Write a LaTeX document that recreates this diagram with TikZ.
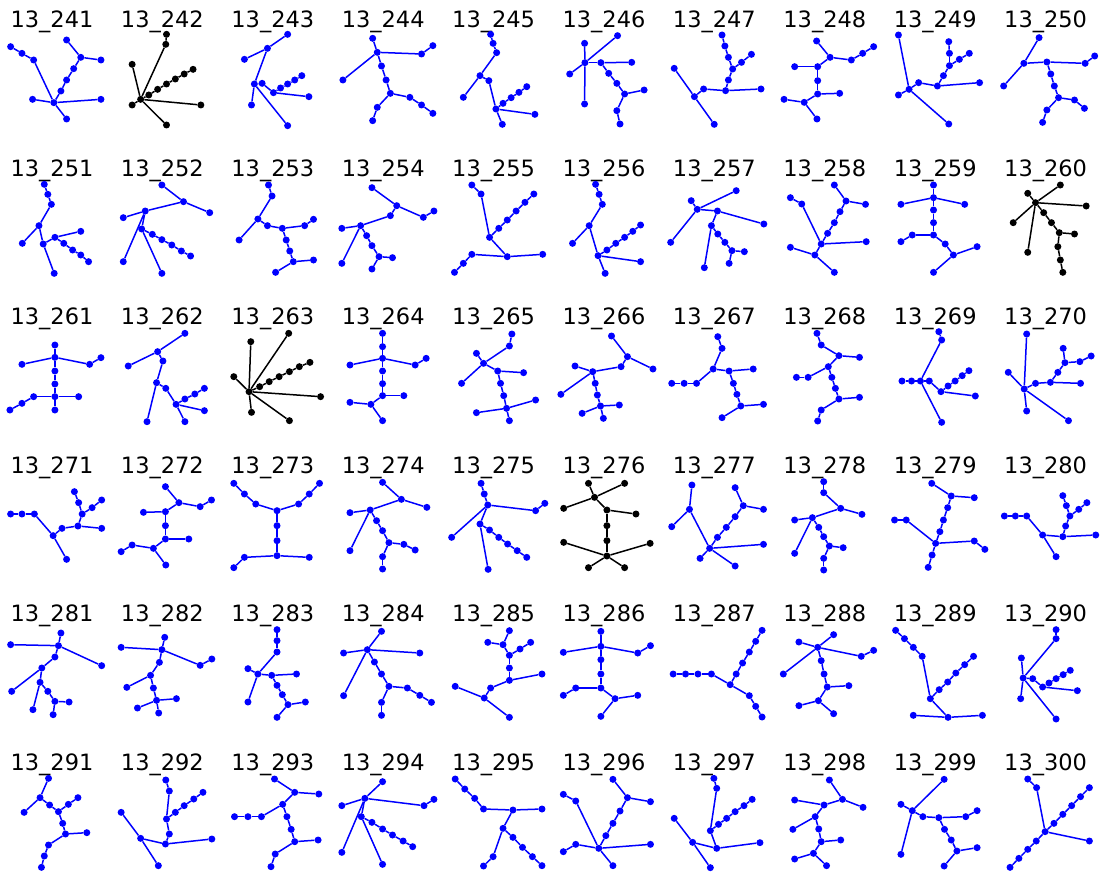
\documentclass[tikz,border=0pt]{standalone}
\usepackage{fontspec}
\setmainfont{DejaVu Sans}
\tikzset{
  dot/.style={circle, inner sep=0pt, minimum size=7pt, draw=none},
  edge/.style={line width=1.5pt},
  ttl/.style={font=\fontsize{22.5}{27}\selectfont, inner sep=0pt, text=black, anchor=base},
  panel/.style={x=0.35423pt, y=-0.33333pt}
}
\newcommand\drawtree[4]{%
  \foreach \n/\x/\y in {#3} {\node[dot,fill=#2] (t#1-\n) at (\x,\y) {};}
  \foreach \u/\v in {#4} {\draw[edge,draw=#2] (t#1-\u) -- (t#1-\v);}
}
\begin{document}
\begin{tikzpicture}[x=1pt,y=-1pt]
\fill[white] (0,0) rectangle (1105,875);
\useasboundingbox (0,0) rectangle (1105,875);
\foreach \r in {0,...,5} {
  \foreach \c in {0,...,9} {
    \pgfmathtruncatemacro\num{241+10*\r+\c}
    \node[ttl] (title\num) at ({52+110.4*\c},{28+148.4*\r}) {13\_\num};
  }
}
% ---------- row 1 left
\begin{scope}[shift={(0,0)},panel]
\drawtree{241}{blue}{a/30/140, b/62/160, c/95/180, h/152/308, d/92/298, e/285/298, f/188/357, g/172/273, i/188/240, j/208/206, k/228/172, l/188/120, m/285/180}{a/b, b/c, c/h, h/d, h/e, h/f, h/g, g/i, i/j, j/k, k/l, k/m}
\drawtree{242}{black}{h/397/298, a/468/133, b/470/103, c/373/193, d/420/285, e/445/268, f/470/252, g/495/237, i/520/222, j/545/208, k/373/315, l/567/315, m/470/375}{h/a, a/b, h/c, h/d, d/e, e/f, f/g, g/i, i/j, h/k, h/l, h/m}
\drawtree{243}{blue}{a/812/103, b/755/145, c/690/178, h/718/252, d/710/315, e/812/377, f/740/250, g/772/278, i/792/264, j/812/252, k/832/240, l/852/227, m/872/290}{a/b, b/c, b/h, h/d, h/e, h/f, f/g, g/i, i/j, j/k, k/l, g/m}
\drawtree{244}{blue}{a/1052/115, b/1065/157, c/968/240, d/1190/162, e/1222/137, f/1077/198, g/1090/240, h/1102/280, i/1157/292, j/1190/315, k/1222/340, l/1065/322, m/1052/362}{a/b, b/c, b/d, d/e, b/f, f/g, g/h, h/i, i/j, j/k, h/l, l/m}
\drawtree{245}{blue}{a/1385/103, b/1392/130, c/1402/158, d/1355/227, e/1308/292, f/1380/242, g/1400/327, h/1420/310, i/1443/293, j/1465/277, k/1487/260, l/1510/343, m/1418/373}{a/b, b/c, c/d, d/e, d/f, f/g, g/h, h/i, i/j, j/k, g/l, g/m}
\end{scope}
% ---------- row 1 right
\begin{scope}[shift={(552,0)},panel]
\drawtree{246}{blue}{h/93/188, a/92/130, b/185/107, c/50/222, d/92/312, e/138/188, f/225/187, g/160/220, i/183/250, j/205/282, k/260/270, l/183/332, m/192/372}{h/a, h/b, h/c, h/d, h/e, e/f, e/g, g/i, i/j, j/k, j/l, l/m}
\drawtree{247}{blue}{a/345/205, h/402/290, b/458/373, c/428/267, d/490/272, e/590/267, f/498/240, g/510/207, i/535/187, j/563/163, k/498/172, l/488/138, m/480/105}{a/h, h/b, h/c, c/d, d/e, d/f, f/g, g/i, i/j, g/k, k/l, l/m}
\drawtree{248}{blue}{a/747/123, b/785/172, c/845/180, d/877/160, e/908/140, f/750/200, g/685/200, h/750/242, i/750/282, j/812/280, k/712/307, l/655/298, m/748/357}{a/b, b/c, c/d, d/e, b/f, f/g, f/h, h/i, i/j, i/k, k/l, k/m}
\drawtree{249}{blue}{a/978/105, h/1008/268, b/978/285, c/1120/372, d/1035/248, e/1088/258, f/1207/248, g/1105/227, i/1122/197, j/1150/178, k/1178/160, l/1122/160, m/1120/125}{a/h, h/b, h/c, h/d, d/e, e/f, e/g, g/i, i/j, j/k, i/l, l/m}
\drawtree{250}{blue}{a/1375/113, b/1332/190, c/1275/258, d/1397/186, e/1505/190, f/1532/168, g/1408/222, h/1418/258, i/1430/293, j/1475/300, k/1503/325, l/1397/330, m/1385/367}{a/b, b/c, b/d, d/e, e/f, d/g, g/h, h/i, i/j, j/k, i/l, l/m}
\end{scope}
% ---------- row 2 left
\begin{scope}[shift={(0,145)},panel]
\drawtree{251}{blue}{a/125/118, b/135/148, c/145/178, d/110/242, e/63/295, f/122/297, g/153/385, h/155/277, i/228/259, j/180/295, k/205/315, l/228/330, m/250/350}{a/b, b/c, c/d, d/e, d/f, f/g, f/h, h/i, h/j, j/k, k/l, l/m}
\drawtree{252}{blue}{a/457/120, b/518/170, c/592/203, d/410/198, e/348/218, f/348/350, g/400/252, h/430/268, i/457/284, j/485/300, k/512/318, l/538/333, m/457/385}{a/b, b/c, b/d, d/e, d/f, d/g, g/h, h/i, i/j, j/k, k/l, g/m}
\drawtree{253}{blue}{a/758/120, b/768/153, c/728/222, d/675/285, e/755/242, f/797/250, g/860/242, h/885/223, i/808/285, j/818/318, k/828/350, l/885/345, m/778/382}{a/b, b/c, c/d, c/e, e/f, f/g, g/h, f/i, i/j, j/k, k/l, k/m}
\drawtree{254}{blue}{a/1050/128, b/1120/182, c/1195/217, d/1225/198, e/1102/212, f/1018/242, g/965/250, h/965/355, i/1035/272, j/1050/302, k/1070/335, l/1108/338, m/1050/372}{a/b, b/c, c/d, b/e, e/f, f/g, f/h, f/i, i/j, j/k, k/l, k/m}
\drawtree{255}{blue}{a/1332/120, b/1358/147, c/1382/277, d/1408/250, e/1432/225, f/1457/198, g/1482/172, h/1507/147, i/1432/335, j/1532/328, k/1332/328, l/1308/355, m/1283/382}{a/b, b/c, c/d, d/e, e/f, f/g, g/h, c/i, i/j, i/k, k/l, l/m}
\end{scope}
% ---------- row 2 right
\begin{scope}[shift={(552,145)},panel]
\drawtree{256}{blue}{a/123/118, b/133/148, c/142/178, d/105/242, e/58/295, f/130/332, g/150/385, h/250/350, i/155/315, j/180/295, k/205/277, l/228/259, m/250/240}{a/b, b/c, c/d, d/e, d/f, f/g, f/h, f/i, i/j, j/k, k/l, l/m}
\drawtree{257}{blue}{a/393/167, b/410/193, c/520/137, d/335/292, e/467/198, f/598/237, g/450/242, h/430/368, i/468/267, j/488/292, k/508/317, l/543/320, m/500/355}{a/b, b/c, b/d, b/e, e/f, e/g, g/h, g/i, i/j, j/k, k/l, k/m}
\drawtree{258}{blue}{a/673/158, b/705/177, c/760/297, d/742/330, e/673/307, f/797/382, g/887/290, h/778/265, i/797/233, j/813/200, k/830/168, l/797/120, m/885/178}{a/b, b/c, c/d, d/e, d/f, c/g, c/h, h/i, i/j, j/k, k/l, k/m}
\drawtree{259}{blue}{a/1077/120, b/1077/158, c/985/178, d/1165/178, e/1077/195, f/1077/233, g/1077/270, h/1017/270, i/985/290, j/1110/297, k/1133/330, l/1200/305, m/1077/382}{a/b, b/c, b/d, b/e, e/f, f/g, g/h, h/i, g/j, j/k, k/l, k/m}
\drawtree{260}{black}{h/1365/173, a/1435/120, b/1343/145, c/1508/183, d/1302/233, e/1343/322, f/1388/203, g/1410/233, i/1432/263, j/1475/267, k/1428/305, l/1435/345, m/1442/382}{h/a, h/b, h/c, h/d, h/e, h/f, f/g, g/i, i/j, i/k, k/l, l/m}
\end{scope}
% ---------- row 3 left
\begin{scope}[shift={(0,295)},panel]
\drawtree{261}{blue}{a/155/150, b/155/187, c/62/208, d/253/208, e/285/188, f/155/228, g/155/267, h/155/305, i/222/305, j/155/345, k/95/305, l/62/325, m/28/345}{a/b, b/c, b/d, d/e, b/f, f/g, g/h, h/i, h/j, h/k, k/l, l/m}
\drawtree{262}{blue}{a/522/115, b/445/170, c/362/213, d/460/198, e/442/263, f/415/380, g/468/280, h/497/328, i/522/312, j/550/297, k/577/280, l/577/347, m/522/380}{a/b, b/c, b/d, d/e, e/f, e/g, g/h, h/i, i/j, j/k, h/l, h/m}
\drawtree{263}{black}{h/703/290, a/708/140, b/815/115, c/660/245, d/733/275, e/760/260, f/788/245, g/817/230, i/845/215, j/875/202, k/905/305, l/710/352, m/817/377}{h/a, h/b, h/c, h/d, d/e, e/f, f/g, g/i, i/j, h/k, h/l, h/m}
\drawtree{264}{blue}{a/1080/115, b/1080/155, c/1080/190, d/988/210, e/1172/210, f/1203/190, g/1080/228, h/1080/266, i/1080/302, j/1140/302, k/1047/328, l/988/322, m/1080/377}{a/b, b/c, c/d, c/e, e/f, c/g, g/h, h/i, i/j, i/k, k/l, k/m}
\drawtree{265}{blue}{a/1445/117, b/1438/153, c/1365/205, d/1345/175, e/1303/265, f/1405/228, g/1478/233, h/1413/265, i/1422/302, j/1430/340, k/1512/315, l/1345/353, m/1438/377}{a/b, b/c, c/d, c/e, c/f, f/g, f/h, h/i, i/j, j/k, j/l, j/m}
\end{scope}
% ---------- row 3 right
\begin{scope}[shift={(552,295)},panel]
\drawtree{266}{blue}{a/168/123, b/213/185, c/285/222, d/195/215, e/115/230, f/65/213, g/25/298, h/122/265, i/128/300, j/137/333, k/190/330, l/85/355, m/145/370}{a/b, b/c, b/d, d/e, e/f, e/g, e/h, h/i, i/j, j/k, j/l, j/m}
\drawtree{267}{blue}{a/468/125, b/480/160, c/455/222, d/408/265, e/373/265, f/338/265, g/500/228, h/568/222, i/512/265, j/522/298, k/533/333, l/597/328, m/480/368}{a/b, b/c, c/d, d/e, e/f, c/g, g/h, g/i, i/j, j/k, k/l, k/m}
\drawtree{268}{blue}{a/748/115, b/760/150, c/810/182, d/868/187, e/780/215, f/723/247, g/690/247, h/790/247, i/800/280, j/810/312, k/868/307, l/760/345, m/750/378}{a/b, b/c, c/d, c/e, e/f, f/g, e/h, h/i, i/j, j/k, j/l, l/m}
\drawtree{269}{blue}{a/1092/110, b/1100/135, c/1040/258, d/1015/258, e/988/258, f/1100/382, g/1065/258, h/1098/290, i/1118/273, j/1138/258, k/1158/242, l/1177/227, m/1195/303}{a/b, b/c, c/d, d/e, c/f, c/g, g/h, h/i, i/j, j/k, k/l, h/m}
\drawtree{270}{blue}{a/1340/117, h/1333/282, b/1288/232, c/1340/348, d/1458/377, e/1365/265, f/1407/262, g/1492/265, i/1428/232, j/1448/203, k/1443/160, l/1490/200, m/1522/183}{a/h, h/b, h/c, h/d, h/e, e/f, f/g, f/i, i/j, j/k, j/l, l/m}
\end{scope}
% ---------- row 4 left
\begin{scope}[shift={(0,440)},panel]
\drawtree{271}{blue}{a/30/222, b/62/222, c/97/222, d/150/287, e/188/358, f/175/265, g/220/258, h/287/265, i/232/222, j/222/188, k/210/155, l/260/203, m/287/180}{a/b, b/c, c/d, d/e, d/f, f/g, g/h, g/i, i/j, j/k, i/l, l/m}
\drawtree{272}{blue}{a/467/140, b/505/188, c/565/200, d/597/180, e/467/215, f/405/217, g/467/257, h/467/297, i/533/297, j/433/325, k/373/315, l/342/335, m/468/375}{a/b, b/c, c/d, b/e, e/f, e/g, g/h, h/i, h/j, j/k, k/l, j/m}
\drawtree{273}{blue}{a/660/130, b/690/162, c/722/192, d/782/212, e/843/192, f/873/162, g/902/130, h/782/257, i/782/302, j/782/347, k/873/352, l/690/352, m/660/383}{a/b, b/c, c/d, d/e, e/f, f/g, d/h, h/i, i/j, j/k, j/l, l/m}
\drawtree{274}{blue}{a/1080/127, b/1133/178, c/1205/202, d/1045/210, e/988/218, f/988/332, g/1063/242, h/1080/272, i/1098/308, j/1140/313, k/1172/330, l/1080/350, m/1080/387}{a/b, b/c, b/d, d/e, d/f, d/g, g/h, h/i, i/j, j/k, i/l, l/m}
\drawtree{275}{blue}{a/1358/130, b/1367/162, c/1377/195, d/1512/212, e/1538/190, f/1275/292, g/1355/252, h/1378/388, i/1382/270, j/1408/292, k/1433/312, l/1460/332, m/1487/352}{a/b, b/c, c/d, d/e, c/f, c/g, g/h, g/i, i/j, j/k, k/l, l/m}
\end{scope}
% ---------- row 4 right
\begin{scope}[shift={(552,440)},panel]
\drawtree{276}{black}{a/103/130, b/120/172, c/205/130, d/33/205, e/155/210, f/237/222, g/155/257, h/155/302, i/155/348, j/33/307, k/277/310, l/103/383, m/205/383}{a/b, b/c, b/d, b/e, e/f, e/g, g/h, h/i, i/j, i/k, i/l, i/m}
\drawtree{277}{blue}{a/395/135, b/388/208, c/338/260, d/445/325, e/418/355, f/517/378, g/597/313, h/467/292, i/492/262, j/517/230, k/540/197, l/517/143, m/597/208}{a/b, b/c, b/d, d/e, d/f, d/g, d/h, h/i, i/j, j/k, k/l, k/m}
\drawtree{278}{blue}{a/767/125, b/767/158, c/815/205, d/875/223, e/735/233, f/685/240, g/685/340, h/753/262, i/767/290, j/783/318, k/822/323, l/767/355, m/767/390}{a/b, b/c, c/d, c/e, e/f, e/g, e/h, h/i, i/j, j/k, j/l, l/m}
\drawtree{279}{blue}{a/1072/130, b/1127/168, c/1192/173, d/1117/203, e/1105/240, f/1095/275, g/1083/310, h/1000/240, i/967/240, j/1192/303, k/1222/328, l/1073/345, m/1062/382}{a/b, b/c, b/d, d/e, e/f, f/g, g/h, h/i, g/j, j/k, g/l, l/m}
\drawtree{280}{blue}{a/1277/228, b/1308/228, c/1340/228, d/1385/285, e/1423/350, f/1442/290, g/1535/285, h/1450/258, i/1462/228, j/1452/197, k/1442/167, l/1487/208, m/1510/188}{a/b, b/c, c/d, d/e, d/f, f/g, f/h, h/i, i/j, j/k, i/l, l/m}
\end{scope}
% ---------- row 5 left
\begin{scope}[shift={(0,588)},panel]
\drawtree{281}{blue}{a/30/170, b/165/173, c/172/135, d/287/233, e/155/207, f/118/240, g/33/310, h/113/283, i/93/365, j/135/310, k/155/340, l/195/342, m/150/380}{a/b, b/c, b/d, b/e, e/f, f/g, f/h, h/i, h/j, j/k, k/l, k/m}
\drawtree{282}{blue}{a/465/148, b/457/185, c/342/178, d/565/232, e/598/213, f/450/223, g/425/262, h/358/298, i/433/300, j/442/337, k/498/332, l/388/360, m/448/375}{a/b, b/c, b/d, d/e, b/f, f/g, g/h, g/i, i/j, j/k, j/l, j/m}
\drawtree{283}{blue}{a/782/125, b/782/158, c/782/192, d/728/258, e/700/242, f/700/342, g/767/262, h/837/258, i/782/292, j/797/320, k/813/350, l/862/342, m/782/388}{a/b, b/c, c/d, d/e, d/f, d/g, g/h, g/i, i/j, j/k, k/l, k/m}
\drawtree{284}{blue}{a/1077/130, b/1037/185, c/970/195, d/1185/195, e/970/323, f/1057/222, g/1077/258, h/1098/295, i/1150/300, j/1185/322, k/1218/343, l/1077/343, m/1077/382}{a/b, b/c, b/d, b/e, b/f, f/g, g/h, h/i, i/j, j/k, h/l, l/m}
\drawtree{285}{blue}{a/1438/128, b/1420/170, c/1377/163, d/1438/202, e/1468/183, f/1498/163, g/1438/240, h/1438/277, i/1530/258, j/1385/300, k/1367/330, l/1285/295, m/1438/388}{a/b, b/c, b/d, d/e, e/f, d/g, g/h, h/i, h/j, j/k, k/l, k/m}
\end{scope}
% ---------- row 5 right
\begin{scope}[shift={(552,588)},panel]
\drawtree{286}{blue}{a/138/130, b/138/175, c/32/193, d/242/195, e/278/173, f/138/215, g/138/258, h/138/300, i/67/300, j/32/322, k/178/332, l/242/322, m/138/385}{a/b, b/c, b/d, d/e, b/f, f/g, g/h, h/i, i/j, h/k, k/l, k/m}
\drawtree{287}{blue}{a/342/258, b/377/258, c/412/258, d/450/258, e/503/290, f/520/258, g/538/225, h/557/192, i/575/160, j/593/127, k/557/323, l/575/355, m/593/387}{a/b, b/c, c/d, d/e, e/f, f/g, g/h, h/i, i/j, e/k, k/l, l/m}
\drawtree{288}{blue}{a/697/162, b/750/178, c/795/140, d/653/258, e/873/205, f/908/187, g/760/218, h/768/258, i/777/297, j/838/293, k/752/338, l/697/353, m/795/377}{a/b, b/c, b/d, b/e, e/f, b/g, g/h, h/i, i/j, i/k, k/l, k/m}
\drawtree{289}{blue}{a/970/127, b/995/152, c/1020/178, d/1045/205, e/1068/332, f/1093/305, g/1117/282, h/1140/255, i/1165/230, j/1190/205, k/1118/388, l/1020/382, m/1215/382}{a/b, b/c, c/d, d/e, e/f, f/g, g/h, h/i, i/j, e/k, k/l, k/m}
\drawtree{290}{blue}{a/1423/125, b/1423/152, c/1330/270, d/1325/210, e/1323/332, f/1423/393, g/1357/272, h/1385/297, i/1403/285, j/1423/272, k/1443/260, l/1463/247, m/1483/308}{a/b, b/c, c/d, c/e, c/f, c/g, g/h, h/i, i/j, j/k, k/l, h/m}
\end{scope}
% ---------- row 6 left
\begin{scope}[shift={(0,735)},panel]
\drawtree{291}{blue}{a/137/130, b/113/188, c/68/232, d/140/210, e/165/230, f/193/208, g/220/188, h/177/265, i/185/297, j/245/293, k/137/330, l/125/363, m/117/397}{a/b, b/c, b/d, d/e, e/f, f/g, e/h, h/i, i/j, i/k, k/l, l/m}
\drawtree{292}{blue}{a/468/135, b/478/168, c/470/252, d/495/232, e/520/212, f/547/192, g/573/172, h/478/297, i/467/327, j/598/312, k/397/310, l/342/232, m/447/392}{a/b, b/c, c/d, d/e, e/f, f/g, c/h, h/i, i/j, i/k, k/l, k/m}
\drawtree{293}{blue}{a/775/132, b/832/172, c/900/177, d/798/208, e/738/245, f/700/245, g/662/245, h/810/245, i/822/283, j/832/320, k/898/315, l/777/357, m/765/395}{a/b, b/c, b/d, d/e, e/f, f/g, d/h, h/i, i/j, j/k, j/l, l/m}
\drawtree{294}{blue}{a/1080/140, b/1030/190, c/965/212, d/1197/212, e/1225/193, f/965/352, g/1020/245, h/1080/388, i/1050/262, j/1080/282, k/1108/300, l/1138/318, m/1165/335}{a/b, b/c, b/d, d/e, b/f, b/g, g/h, g/i, i/j, j/k, k/l, l/m}
\drawtree{295}{blue}{a/1285/132, b/1312/162, c/1340/190, d/1365/222, e/1448/225, f/1530/222, g/1420/280, h/1392/365, i/1365/393, j/1448/307, k/1475/337, l/1503/365, m/1530/392}{a/b, b/c, c/d, d/e, e/f, e/g, g/h, h/i, g/j, j/k, k/l, l/m}
\end{scope}
% ---------- row 6 right
\begin{scope}[shift={(552,735)},panel]
\drawtree{296}{blue}{a/32/178, b/67/198, c/132/340, d/67/328, e/32/350, f/278/328, g/172/392, h/152/302, i/172/265, j/192/228, k/213/188, l/172/133, m/278/200}{a/b, b/c, c/d, d/e, c/f, c/g, c/h, h/i, i/j, j/k, k/l, k/m}
\drawtree{297}{blue}{a/457/130, b/465/160, c/447/287, d/470/268, e/493/250, f/517/230, g/542/212, h/565/193, i/465/340, j/587/323, k/397/322, l/345/250, m/447/398}{a/b, b/c, c/d, d/e, e/f, f/g, g/h, c/i, i/j, i/k, k/l, k/m}
\drawtree{298}{blue}{a/783/135, b/820/193, c/878/217, d/768/210, e/685/195, f/743/245, g/680/283, h/753/282, i/760/320, j/815/315, k/738/355, l/685/372, m/775/392}{a/b, b/c, b/d, d/e, d/f, f/g, f/h, h/i, i/j, i/k, k/l, k/m}
\drawtree{299}{blue}{a/1107/133, b/1017/227, c/985/208, d/985/358, e/1047/245, f/1092/248, g/1168/245, h/1200/227, i/1108/283, j/1127/315, k/1143/348, l/1200/338, m/1107/393}{a/b, b/c, b/d, b/e, e/f, f/g, g/h, f/i, i/j, j/k, k/l, k/m}
\drawtree{300}{blue}{a/1343/132, b/1368/158, c/1392/290, d/1417/265, e/1442/238, f/1467/212, g/1492/185, h/1517/158, i/1367/318, j/1343/343, k/1318/370, l/1293/397, m/1517/318}{a/b, b/c, c/d, d/e, e/f, f/g, g/h, c/i, i/j, j/k, k/l, c/m}
\end{scope}
\end{tikzpicture}
\end{document}
